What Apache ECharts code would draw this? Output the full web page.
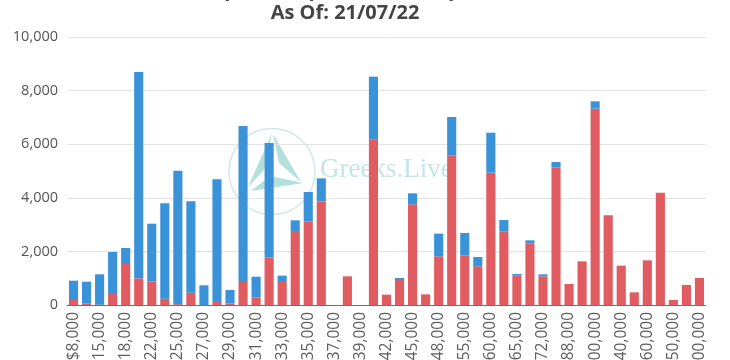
<!DOCTYPE html>
<html><head><meta charset="utf-8">
<script src="https://cdn.jsdelivr.net/npm/echarts@6/dist/echarts.min.js"></script>
<style>html,body{margin:0;padding:0;background:#fff}#c{width:730px;height:360px}</style>
</head><body><div id="c"></div>
<script>
const strikes = [8000,10000,15000,16000,18000,20000,22000,24000,25000,26000,27000,28000,29000,30000,31000,32000,33000,34000,35000,36000,37000,38000,39000,40000,42000,44000,45000,46000,48000,50000,55000,58000,60000,62000,65000,70000,72000,80000,88000,90000,100000,120000,140000,150000,160000,200000,250000,280000,300000];
const calls = [187,63,10,410,1530,995,871,236,30,460,0,150,60,858,286,1779,858,2761,3109,3856,0,1070,0,6181,386,933,3756,398,1816,5572,1853,1443,4938,2736,1095,2288,1070,5124,784,1629,7326,3346,1468,473,1667,4192,187,746,1007];
const puts = [720,807,1135,1568,597,7699,2164,3558,4982,3408,734,4539,500,5821,771,4266,237,398,1107,870,0,0,0,2339,0,74,411,0,846,1443,834,348,1492,436,62,125,74,212,0,0,274,0,0,0,0,0,0,0,0];
const yTicks = [0,2000,4000,6000,8000,10000];
const titleLines = ['BTC Options Open Interest by Strike', 'As Of: 21/07/22'];

const chart = echarts.init(document.getElementById('c'), null, {renderer:'canvas'});
const fmt = v => Number(v).toLocaleString('en-US');
const FONT = 'Open Sans';
chart.setOption({
  animation: false,
  textStyle: {fontFamily: FONT},
  grid: {left: 67, right: 24, top: 37, bottom: 55, containLabel: false, outerBoundsMode: 'none'},
  graphic: [
    {type:'circle', z:-1, shape:{cx:272, cy:171.5, r:43}, style:{fill:'none', stroke:'#cfe9e7', lineWidth:1.5}},
    {type:'polygon', z:-1, shape:{points:[[272,133],[264,170],[248,187]]}, style:{fill:'#b3e0dc'}},
    {type:'polygon', z:-1, shape:{points:[[273,134],[301,182],[279,163]]}, style:{fill:'#b3e0dc'}},
    {type:'polygon', z:-1, shape:{points:[[251,191],[303,183],[270,176]]}, style:{fill:'#b3e0dc'}},
    {type:'text', z:-1, style:{x:320, y:170, text:'Greeks.Live', font:'27px "Liberation Serif"', fill:'#c3e6e2', verticalAlign:'middle', align:'left'}},
    {type:'text', style:{x:345, y:-10, text:titleLines[0], font:'bold 20px "Open Sans"', fill:'#444', align:'center', verticalAlign:'middle'}},
    {type:'text', style:{x:345, y:13.5, text:titleLines[1], font:'bold 20px "Open Sans"', fill:'#444', align:'center', verticalAlign:'middle'}}
  ],
  xAxis: {
    type: 'category',
    data: strikes,
    axisLine: {lineStyle: {color: '#6E7079'}},
    axisTick: {length: 5},
    axisLabel: {interval: 1, rotate: 90, margin: 7, fontSize: 15.5, color: '#5c5c5c', formatter: v => '$' + fmt(v)}
  },
  yAxis: {
    type: 'value',
    min: yTicks[0], max: yTicks[yTicks.length-1], interval: 2000,
    axisLine: {show: false}, axisTick: {show: false},
    splitLine: {lineStyle: {color: '#e3e3e3'}},
    axisLabel: {fontSize: 14.5, color: '#555', margin: 9, formatter: v => fmt(v)}
  },
  series: [
    {name: 'Calls', type: 'bar', stack: 'oi', data: calls, barWidth: '70%', itemStyle: {color: '#e05c61'}},
    {name: 'Puts', type: 'bar', stack: 'oi', data: puts, barWidth: '70%', itemStyle: {color: '#3a93d9'}}
  ]
});
</script>
</body></html>
